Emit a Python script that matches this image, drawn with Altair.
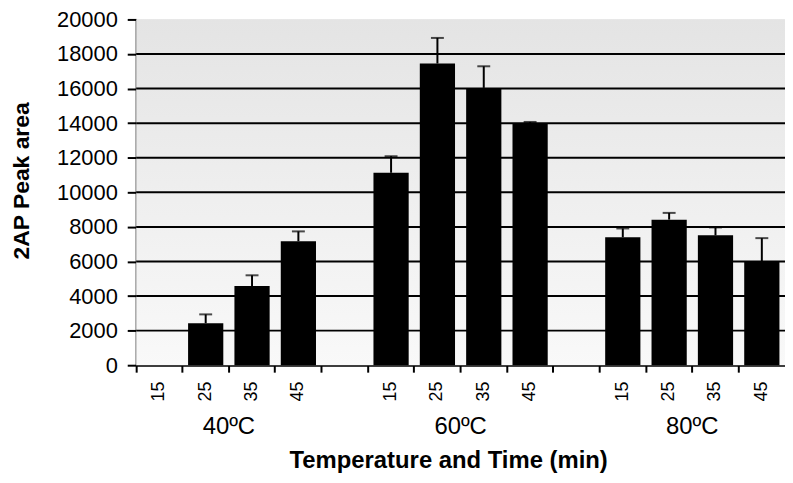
import altair as alt
import pandas as pd

temps = ["40ºC", "60ºC", "80ºC"]
times = ["15", "25", "35", "45"]
area_40 = [0, 2430, 4580, 7170]
err_40 = [0, 510, 620, 570]
area_60 = [11130, 17450, 16040, 14010]
err_60 = [960, 1480, 1250, 60]
area_80 = [7400, 8420, 7510, 5990]
err_80 = [510, 390, 460, 1360]
y_ticks = [0, 2000, 4000, 6000, 8000, 10000, 12000, 14000, 16000, 18000, 20000]

means = [area_40, area_60, area_80]
errs = [err_40, err_60, err_80]

slots = []
rows = []
for i, t in enumerate(temps):
    if i > 0:
        slots.append(f"gap{i}")
    for j, m in enumerate(times):
        key = f"{t}|{m}"
        slots.append(key)
        rows.append({"slot": key, "temp": t, "time": m,
                     "area": means[i][j], "top": means[i][j] + errs[i][j]})
df = pd.DataFrame(rows)
labels_df = pd.DataFrame({"temp": temps, "slot": [f"{t}|35" for t in temps]})
grid_df = pd.DataFrame({"v": y_ticks[1:-1]})

W, H = 653, 348
STEP = W / len(slots)
FONT = "Liberation Sans"

xscale = alt.Scale(domain=slots, paddingInner=0, paddingOuter=0)
yscale = alt.Scale(domain=[0, 20000], nice=False)

xaxis = alt.Axis(
    title="Temperature and Time (min)",
    labelExpr="(isString(datum.value) && indexof(datum.value, 'gap') < 0) ? split(datum.value, '|')[1] : ''",
    labelAngle=270, labelFontSize=18, labelFont=FONT, labelColor="black",
    labelPadding=9, bandPosition=0,
    tickSize=7, tickColor="black", tickWidth=2,
    domainColor="black", domainWidth=2, grid=False,
    titleFont=FONT, titleFontSize=24, titleFontWeight="bold", titleColor="black",
    titleX=314, titleY=103, titleBaseline="alphabetic", titleAlign="center",
)
yaxis = alt.Axis(
    values=y_ticks, format="d", title="2AP Peak area",
    labelFontSize=22, labelFont=FONT, labelColor="black", labelPadding=10,
    tickSize=9, tickColor="black", tickWidth=2,
    domainColor="black", domainWidth=2, grid=False,
    titleFont=FONT, titleFontSize=23, titleFontWeight="bold", titleColor="black",
    titleX=-115, titleY=162, titleAngle=270, titleAlign="center", titleBaseline="middle",
)

def X():
    return alt.X("slot:N", scale=xscale, axis=xaxis, sort=slots, title="Temperature and Time (min)")

def Y(field):
    return alt.Y(field, scale=yscale, axis=yaxis, title="2AP Peak area")

gradient = {"gradient": "linear", "x1": 0, "y1": 0, "x2": 0, "y2": 1,
            "stops": [{"offset": 0, "color": "#e4e4e4"}, {"offset": 1, "color": "#f9f9f9"}]}

background = alt.Chart(pd.DataFrame({"a": [0]})).mark_rect(fill=gradient).encode(
    x=alt.value(0), x2=alt.value(W), y=alt.value(0), y2=alt.value(H)
)

grid = alt.Chart(grid_df).mark_rule(color="black", strokeWidth=2).encode(
    y=Y("v:Q")
)

bars = alt.Chart(df).mark_bar(color="black", width=alt.RelativeBandSize(0.76)).encode(
    x=X(),
    y=Y("area:Q"),
)

base_err = alt.Chart(df).transform_filter("datum.area > 0")
stems = base_err.mark_rule(color="black", strokeWidth=2).encode(
    x=X(),
    y=Y("area:Q"),
    y2="top:Q",
)
caps = base_err.mark_tick(color="black", thickness=2, size=13).encode(
    x=X(),
    y=Y("top:Q"),
)

group_labels = alt.Chart(labels_df).mark_text(
    font=FONT, fontSize=24, color="black", baseline="alphabetic", align="center",
    dx=-STEP / 2,
).encode(
    x=X(),
    y=alt.value(H + 69),
    text="temp:N",
)

chart = alt.layer(background, grid, bars, stems, caps, group_labels).properties(
    width=W, height=H, autosize="none",
    padding={"left": 129, "top": 10, "right": 0, "bottom": 109},
).configure_view(stroke="#9a9a9a", strokeWidth=2).configure(font=FONT)

chart.save("out.html", embed_options={"renderer": "svg", "actions": False})
